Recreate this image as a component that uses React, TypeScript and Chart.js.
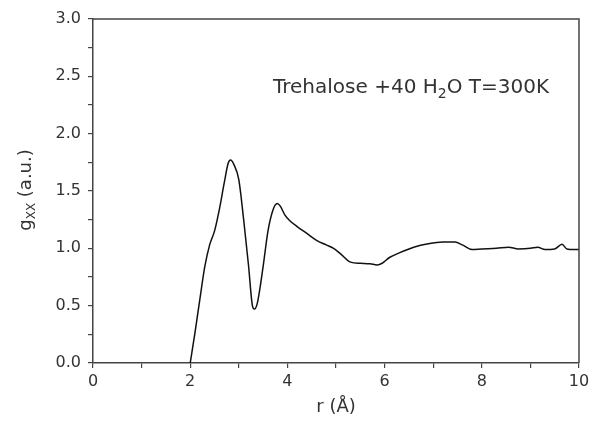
import React, { useEffect, useRef } from "react";
import { Chart, registerables } from "chart.js";

Chart.register(...registerables);

const rValues = [
  2.0, 2.1, 2.2, 2.3, 2.4, 2.5, 2.6, 2.7, 2.78, 2.83, 2.9, 3.0, 3.1, 3.2, 3.28, 3.32, 3.38, 3.5, 3.6, 3.7,
  3.79, 3.85, 3.95, 4.05, 4.2, 4.4, 4.6, 4.8, 4.95, 5.1, 5.3, 5.5, 5.7, 5.85, 5.95, 6.1, 6.3, 6.6, 6.9,
  7.2, 7.45, 7.6, 7.8, 8.0, 8.3, 8.55, 8.75, 9.0, 9.15, 9.3, 9.5, 9.65, 9.75, 9.9, 10.0,
];
const gValues = [
  0.0, 0.27, 0.56, 0.84, 1.03, 1.15, 1.34, 1.57, 1.74, 1.77, 1.73, 1.6, 1.25, 0.85, 0.5, 0.47, 0.52, 0.84,
  1.15, 1.33, 1.39, 1.37, 1.29, 1.24, 1.19, 1.13, 1.07, 1.03, 1.0, 0.95, 0.88, 0.87, 0.865, 0.855, 0.87,
  0.92, 0.96, 1.01, 1.04, 1.055, 1.055, 1.03, 0.99, 0.995, 1.0, 1.01, 0.995, 1.0, 1.01, 0.99, 0.995,
  1.035, 0.995, 0.99, 0.99,
];
const xTickLabels = ["0", "2", "4", "6", "8", "10"];
const yTickLabels = ["0.0", "0.5", "1.0", "1.5", "2.0", "2.5", "3.0"];

const FONT = "'DejaVu Sans', 'Liberation Sans', sans-serif";
const TEXT = "#333333";
const AXIS = "#444444";

const decorPlugin = {
  id: "decor",
  afterDraw(chart: any) {
    const ctx = chart.ctx;
    const a = chart.chartArea;
    ctx.save();
    // top & right border
    ctx.strokeStyle = AXIS;
    ctx.lineWidth = 1.5;
    ctx.beginPath();
    ctx.moveTo(a.left, a.top);
    ctx.lineTo(a.right, a.top);
    ctx.lineTo(a.right, a.bottom);
    ctx.stroke();

    // annotation
    ctx.fillStyle = TEXT;
    ctx.textBaseline = "alphabetic";
    ctx.textAlign = "left";
    let x = 273;
    const y = 93;
    const main = `20px ${FONT}`;
    const sub = `14px ${FONT}`;
    const parts: [string, string, number][] = [
      ["Trehalose +40 H", main, 0],
      ["2", sub, 5],
      ["O T=300K", main, 0],
    ];
    for (const [t, f, dy] of parts) {
      ctx.font = f;
      ctx.fillText(t, x, y + dy);
      x += ctx.measureText(t).width;
    }

    // y title
    ctx.translate(25, 190);
    ctx.rotate(-Math.PI / 2);
    const yparts: [string, string, number][] = [
      ["g", `18px ${FONT}`, 0],
      ["XX", `12px ${FONT}`, 4],
      [" (a.u.)", `18px ${FONT}`, 0],
    ];
    let total = 0;
    for (const [t, f] of yparts) {
      ctx.font = f;
      total += ctx.measureText(t).width;
    }
    let yx = -total / 2;
    for (const [t, f, dy] of yparts) {
      ctx.font = f;
      ctx.fillText(t, yx, 6 + dy);
      yx += ctx.measureText(t).width;
    }
    ctx.restore();
  },
};

export default function App() {
  const ref = useRef<HTMLCanvasElement>(null);
  useEffect(() => {
    if (!ref.current) return;
    const data = rValues.map((r, i) => ({ x: r, y: gValues[i] }));
    const chart = new Chart(ref.current, {
      type: "line",
      data: {
        datasets: [
          {
            data,
            borderColor: "#111111",
            borderWidth: 1.5,
            pointRadius: 0,
            cubicInterpolationMode: "monotone",
            fill: false,
          },
        ],
      },
      options: {
        animation: false,
        responsive: false,
        events: [],
        layout: { padding: { top: 19, right: 11, left: 0, bottom: 16 } },
        plugins: { legend: { display: false }, tooltip: { enabled: false } },
        scales: {
          x: {
            type: "linear",
            min: 0,
            max: 10,
            afterFit: (s: any) => {
              s.height = 55;
              s.paddingLeft = 0;
              s.paddingRight = 0;
            },
            ticks: {
              stepSize: 1,
              autoSkip: false,
              maxRotation: 0,
              padding: 4,
              color: TEXT,
              font: { family: FONT, size: 16 },
              callback: (v: any) => {
                const n = Number(v);
                return n % 2 === 0 ? xTickLabels[n / 2] : "";
              },
            },
            grid: { drawOnChartArea: false, drawTicks: true, tickLength: 5, color: AXIS, lineWidth: 1.2 },
            border: { display: true, color: AXIS, width: 1.5 },
            title: {
              display: true,
              text: "r (Å)",
              color: TEXT,
              font: { family: FONT, size: 18 },
              padding: { top: 4, bottom: 0 },
            },
          },
          y: {
            type: "linear",
            min: 0,
            max: 3,
            afterFit: (s: any) => {
              s.width = 93;
              s.paddingTop = 0;
              s.paddingBottom = 0;
            },
            ticks: {
              stepSize: 0.25,
              autoSkip: false,
              padding: 7,
              color: TEXT,
              font: { family: FONT, size: 16 },
              callback: (v: any) => {
                const n = Number(v) * 2;
                return Math.abs(n - Math.round(n)) < 1e-6 ? yTickLabels[Math.round(n)] : "";
              },
            },
            grid: { drawOnChartArea: false, drawTicks: true, tickLength: 5, color: AXIS, lineWidth: 1.2 },
            border: { display: true, color: AXIS, width: 1.5 },
          },
        },
      },
      plugins: [decorPlugin],
    } as any);
    return () => chart.destroy();
  }, []);
  return (
    <div style={{ position: "absolute", left: 0, top: 0, width: 590, height: 434, background: "#fff" }}>
      <canvas ref={ref} width={590} height={434} style={{ width: 590, height: 434 }} />
    </div>
  );
}
